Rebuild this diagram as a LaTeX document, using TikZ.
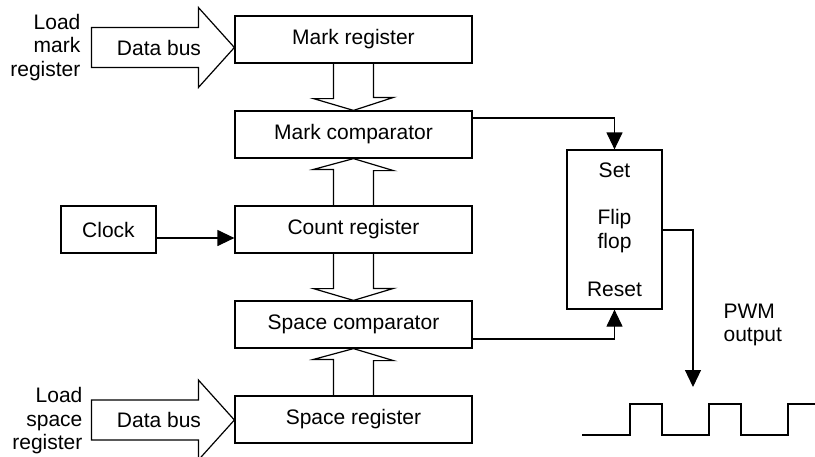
\documentclass[tikz,border=0pt]{standalone}
\usepackage{fontspec}
\setmainfont{Liberation Sans}
\usetikzlibrary{arrows.meta,calc}
\begin{document}
\begin{tikzpicture}[x=1pt,y=-1pt,line width=1.2pt,
  font=\fontsize{21}{23.5}\selectfont,
  blk/.style={draw,minimum width=237pt,minimum height=47pt,inner sep=0pt},
  sig/.style={-{Triangle[length=17pt,width=16pt]}},
  lbl/.style={inner sep=0pt}]
\useasboundingbox (0,0) rectangle (815,456);
\node[blk] (mr) at (353.5,39.5) {Mark register};
\node[blk] (mc) at (353.5,134.5) {Mark comparator};
\node[blk] (cr) at (353.5,229.5) {Count register};
\node[blk] (sc) at (353.5,324.5) {Space comparator};
\node[blk] (sr) at (353.5,419.5) {Space register};
\node[draw,minimum width=95pt,minimum height=47pt,inner sep=0pt] (clk) at (108.5,229.5) {Clock};
\node[draw,minimum width=95pt,minimum height=159pt,inner sep=0pt] (ff) at (614.5,229.5) {};
\node[lbl] (set) at (614.5,170) {Set};
\node[lbl,align=center] (flip) at (614.5,231) {Flip\\flop};
\node[lbl] (reset) at (614.5,289) {Reset};
% hollow bus arrows
\draw ($(mr.south)+(-20,0)$) -- ++(0,35) -- ++(-20,0) -- (mc.north) -- ++(40,-13) -- ++(-20,0) -- ($(mr.south)+(20,0)$);
\draw ($(cr.north)+(-20,0)$) -- ++(0,-36) -- ++(-20,0) -- (mc.south) -- ++(40,12) -- ++(-20,0) -- ($(cr.north)+(20,0)$);
\draw ($(cr.south)+(-20,0)$) -- ++(0,35) -- ++(-20,0) -- (sc.north) -- ++(40,-12) -- ++(-20,0) -- ($(cr.south)+(20,0)$);
\draw ($(sr.north)+(-20,0)$) -- ++(0,-36) -- ++(-20,0) -- (sc.south) -- ++(40,12) -- ++(-20,0) -- ($(sr.north)+(20,0)$);
% data bus arrows
\coordinate (tipA) at (mr.west |- 0,47.5);
\draw (tipA) -- ++(-36,-40) -- ++(0,20) -- ++(-107,0) -- ++(0,40) -- ++(107,0) -- ++(0,20) -- cycle;
\node[lbl] (dbA) at (159,47.5) {Data bus};
\coordinate (tipB) at (sr.west |- 0,420);
\draw (tipB) -- ++(-36,-40) -- ++(0,20) -- ++(-107,0) -- ++(0,40) -- ++(107,0) -- ++(0,20) -- cycle;
\node[lbl] (dbB) at (159,420) {Data bus};
\node[lbl,align=right,anchor=east] (lmr) at (81,47.5) {Load\\mark\\register};
\node[lbl,align=right,anchor=east] (lsr) at (83,421) {Load\\space\\register};
% signals
\draw[sig] (clk.east |- 0,238) -- (cr.west |- 0,238);
\draw[sig] (mc.east |- 0,118) -| (ff.north);
\draw[sig] (sc.east |- 0,339) -| (ff.south);
\coordinate (outd) at (693,387);
\draw[sig] (ff.east |- 0,230) -| (outd);
\node[lbl,align=left,anchor=west] (pwm) at (723,325) {PWM\\output};
% waveform
\draw (582,435) -- (630,435) -- (630,404) -- (662,404) -- (662,435) -- (709,435) -- (709,404) -- (741,404) -- (741,435) -- (788,435) -- (788,404) -- (815,404);
\end{tikzpicture}
\end{document}
